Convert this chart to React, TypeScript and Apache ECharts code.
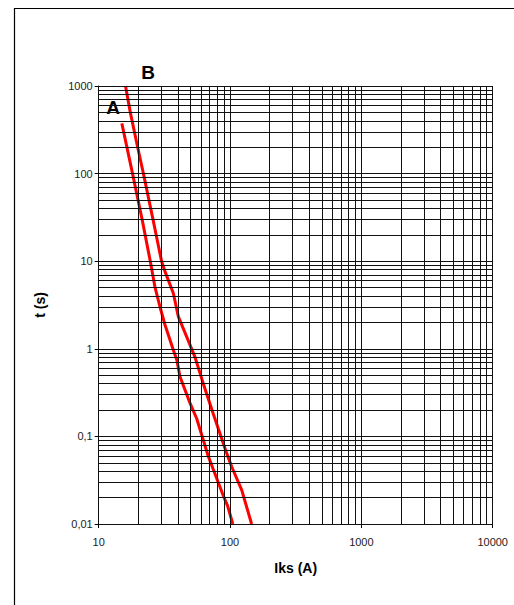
import React, { useEffect, useRef } from "react";
import * as echarts from "echarts";

// Curve A: [current (A), time (s)]
const curveA: [number, number][] = [
  [15, 375], [18.1, 100], [21.4, 30], [24.7, 10], [26.8, 5.1], [29.3, 3.0],
  [32, 1.87], [37, 0.97], [39.3, 0.75], [41.6, 0.48], [49.6, 0.24], [55.7, 0.16],
  [68.4, 0.059], [88.9, 0.021], [96, 0.016], [105, 0.01],
];
// Curve B
const curveB: [number, number][] = [
  [16, 1000], [17.4, 500], [19.8, 200], [21.9, 100], [25.9, 30], [30.1, 10],
  [32, 7.6], [37, 4.3], [40.4, 2.33], [46.8, 1.37], [54, 0.81], [62.6, 0.4],
  [74.6, 0.18], [88.9, 0.083], [94.4, 0.064], [103, 0.045], [122.8, 0.0244], [146, 0.01],
];

const xDecades = [10, 100, 1000];
const yDecades = [0.01, 0.1, 1, 10, 100];
const mantissas = [1, 2, 3, 4, 5, 6, 7, 8, 9];
const xMax = 10000;
const yMax = 1000;

const clean = (v: number) => Number(v.toPrecision(6));
const xGrid = [...xDecades.flatMap((d) => mantissas.map((m) => clean(m * d))), xMax];
const yGrid = [...yDecades.flatMap((d) => mantissas.map((m) => clean(m * d))), yMax];

export default function App() {
  const ref = useRef<HTMLDivElement>(null);
  useEffect(() => {
    if (!ref.current) return;
    const chart = echarts.init(ref.current, undefined, { renderer: "svg" });
    const font = "'Liberation Sans', Arial, sans-serif";
    chart.setOption({
      animation: false,
      backgroundColor: "#fff",
      grid: { left: 98.7, right: 21.3, top: 86, bottom: 81, containLabel: false },
      xAxis: {
        type: "log",
        logBase: 10,
        min: 10,
        max: xMax,
        name: "Iks (A)",
        nameLocation: "middle",
        nameGap: 37,
        nameTextStyle: { fontFamily: font, fontSize: 14, fontWeight: "bold", color: "#000" },
        axisLine: { show: true, lineStyle: { color: "#777", width: 1 } },
        axisTick: { show: true, length: 4, lineStyle: { color: "#000" } },
        axisLabel: {
          fontFamily: font,
          fontSize: 11,
          color: "#222",
          margin: 12,
          formatter: (v: number) => String(clean(v)),
        },
        splitLine: { show: false },
      },
      yAxis: {
        type: "log",
        logBase: 10,
        min: 0.01,
        max: yMax,
        name: "t (s)",
        nameLocation: "middle",
        nameGap: 52,
        nameRotate: 90,
        nameTextStyle: { fontFamily: font, fontSize: 14, fontWeight: "bold", color: "#000" },
        axisLine: { show: true, lineStyle: { color: "#000", width: 1 } },
        axisTick: { show: true, length: 4, lineStyle: { color: "#000" } },
        axisLabel: {
          fontFamily: font,
          fontSize: 11,
          color: "#222",
          margin: 6,
          formatter: (v: number) => String(clean(v)).replace(".", ","),
        },
        splitLine: { show: false },
      },
      graphic: [
        {
          type: "rect",
          shape: { x: 14.5, y: 8.5, width: 540, height: 640 },
          style: { fill: "none", stroke: "#000", lineWidth: 1.2 },
          silent: true,
        },
        {
          type: "text",
          x: 113,
          y: 107,
          style: { text: "A", font: `bold 19px ${font}`, fill: "#000", align: "center", verticalAlign: "middle" },
        },
        {
          type: "text",
          x: 148,
          y: 72,
          style: { text: "B", font: `bold 19px ${font}`, fill: "#000", align: "center", verticalAlign: "middle" },
        },
      ],
      series: [
        {
          type: "line",
          z: 1,
          data: [[10, 0.01]],
          showSymbol: false,
          symbol: "none",
          lineStyle: { opacity: 0 },
          silent: true,
          markLine: {
            silent: true,
            symbol: ["none", "none"],
            label: { show: false },
            lineStyle: { color: "#111", width: 1, type: "solid" },
            data: [
              ...xGrid.map((v) => ({ xAxis: v })),
              ...yGrid.map((v) => ({ yAxis: v })),
            ],
          },
        },
        {
          name: "A",
          type: "line",
          z: 3,
          data: curveA,
          showSymbol: false,
          symbol: "none",
          lineStyle: { color: "#ff0000", width: 3 },
          clip: true,
        },
        {
          name: "B",
          type: "line",
          z: 3,
          data: curveB,
          showSymbol: false,
          symbol: "none",
          lineStyle: { color: "#ff0000", width: 3 },
          clip: true,
        },
      ],
    });
    return () => chart.dispose();
  }, []);
  return (
    <div
      ref={ref}
      style={{ position: "absolute", left: 0, top: 0, width: 514, height: 605 }}
    />
  );
}
